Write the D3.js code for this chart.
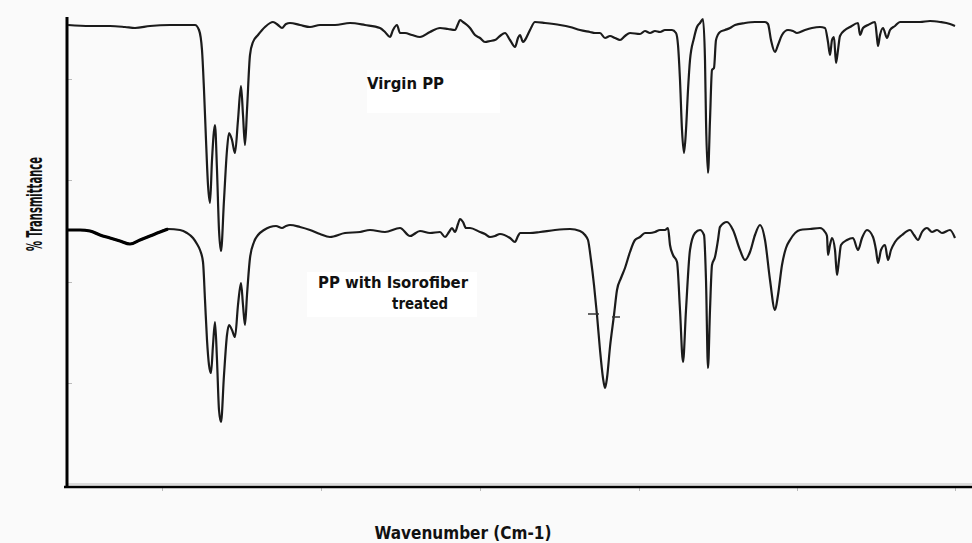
<!DOCTYPE html>
<html>
<head>
<meta charset="utf-8">
<script src="https://cdn.jsdelivr.net/npm/d3@7"></script>
<style>
  body { margin: 0; background: #fafafa; }
  svg { display: block; }
  .lbl { font-family: "Liberation Sans Narrow", "DejaVu Sans Condensed", sans-serif; font-weight: bold; fill: #111; }
</style>
</head>
<body>
<div id="chart"></div>
<script>
// spectra: [wavenumber (cm-1), % transmittance]
const virginPP = [
  [3996,95],[3908,94.8],[3828,94.8],[3768,94.6],[3728,94.4],[3668,94.8],[3588,95],[3528,95],[3488,95],
  [3472,94],[3460,90],[3452,82],[3444,72],[3436,63],[3428,59.4],[3420,68],[3408,75],[3400,66],[3392,54],
  [3384,49.8],[3372,60],[3360,70],[3352,73.4],[3340,72],[3328,69.4],[3316,76],[3304,82.8],[3296,77],
  [3288,71],[3280,78],[3268,89],[3256,91.6],[3236,93],[3208,94.6],[3176,95.6],[3156,95],[3140,94.4],
  [3124,95.2],[3108,95.4],[3068,95],[3028,94.6],[2988,95],[2928,95],[2868,95.4],[2808,95],[2748,94.4],
  [2728,93.6],[2708,92.6],[2696,94],[2680,95],[2668,93.4],[2648,93.4],[2620,93],[2588,92.6],[2548,93.6],
  [2508,94.4],[2476,94.2],[2448,94],[2436,95.2],[2428,96],[2416,95.6],[2400,95],[2388,94.4],[2368,93],
  [2348,92.4],[2328,91.6],[2308,91.8],[2288,92],[2268,92.8],[2248,93.4],[2228,92],[2208,90.6],[2196,92.4],
  [2188,93],[2176,91.6],[2168,92],[2148,94],[2128,95.6],[2088,95.4],[2028,95],[1988,94.6],[1948,94],
  [1908,93.6],[1888,93.4],[1868,93.4],[1848,92.4],[1828,92.8],[1808,92.4],[1788,92],[1768,92.8],[1748,93.4],
  [1708,93.2],[1688,93.8],[1668,93.4],[1648,93.8],[1628,93.6],[1608,94],[1580,94],[1564,93.4],[1556,91],
  [1548,84],[1540,74],[1532,69.4],[1524,74],[1516,82],[1508,88],[1492,92.4],[1480,94.6],[1468,95.4],
  [1456,96.2],[1448,88],[1444,76],[1436,65.4],[1428,76],[1420,86],[1412,86.4],[1404,92],[1388,93.6],
  [1368,94],[1348,94.4],[1328,95],[1288,95.4],[1248,95.6],[1208,95.6],[1196,95.2],[1184,92],[1168,89.6],
  [1156,91],[1140,93],[1116,94],[1096,93.8],[1080,93.4],[1048,94],[1020,94.4],[988,94.6],[968,94.4],
  [956,91.6],[948,89],[940,92],[932,92.6],[924,87.4],[916,90],[908,92.8],[888,94],[868,94.6],[836,95.4],
  [828,93],[816,94.4],[796,95],[768,95.6],[760,92.4],[756,90.8],[748,93],[736,94.4],[720,92.4],[708,94],
  [688,94.8],[668,95.6],[628,95.6],[588,95.6],[548,95.8],[508,95.6],[468,95.2],[448,94.8]
];

const treatedPP = [
  [3996,54],[3948,54],[3908,53.8],[3868,53],[3828,52.4],[3788,51.8],[3748,51.2],[3708,52],[3668,52.8],
  [3628,53.6],[3596,54.2],[3548,54],[3520,53.4],[3496,52.4],[3480,51.2],[3468,50],[3456,47.6],[3448,40],
  [3440,32],[3432,27],[3424,25.4],[3416,31],[3408,35.6],[3400,28],[3392,18],[3384,15.6],[3372,25],
  [3360,33],[3352,35],[3340,34],[3328,32.6],[3316,39],[3304,43.4],[3296,39],[3288,35],[3280,41],
  [3268,48.4],[3252,51.6],[3236,53],[3212,54],[3188,54.6],[3164,54.8],[3140,54.4],[3124,54.8],[3108,55],
  [3068,54.6],[3028,54],[2988,53.2],[2948,52.6],[2888,53.4],[2828,53.6],[2788,54],[2728,53.6],[2668,54.4],
  [2628,52.8],[2588,53.8],[2548,53.4],[2508,53.6],[2488,52.6],[2472,53.6],[2460,54.4],[2448,53.6],
  [2436,55.2],[2428,56.2],[2416,55.6],[2404,54.4],[2388,54.4],[2348,53.6],[2328,53.2],[2308,52.6],
  [2288,52.8],[2268,53.2],[2228,52.4],[2208,51.6],[2196,52.8],[2188,53.4],[2148,53.4],[2108,53.6],
  [2048,54],[1988,54.2],[1948,53.8],[1928,53],[1916,52],[1904,48],[1892,43],[1880,37],[1868,30],
  [1856,24.4],[1848,22.4],[1840,24.4],[1828,30.6],[1812,37],[1800,42],[1784,44.4],[1768,46.4],[1748,49.6],
  [1728,52],[1708,52.6],[1688,53.4],[1668,53.4],[1648,53.6],[1628,54],[1608,54],[1596,54.4],[1588,51],
  [1576,49],[1560,47.6],[1548,38],[1536,27.6],[1524,38],[1508,50],[1488,53.4],[1468,54],[1452,53],
  [1444,44],[1436,26.4],[1428,38],[1420,47],[1408,48.6],[1396,52],[1388,54.6],[1360,55.6],[1336,54],
  [1308,50],[1288,48],[1268,49.6],[1248,53],[1228,55],[1208,52],[1188,44],[1168,38],[1156,41],[1140,47],
  [1124,50.4],[1108,52],[1068,54],[1028,54.2],[988,54.4],[968,53.6],[960,52.8],[956,49],[948,51],
  [940,52.4],[928,50],[920,45],[912,48],[904,51],[880,52],[856,52.4],[836,50],[820,52.4],[800,54],
  [776,52.6],[764,50],[756,47.4],[744,50],[728,51],[716,48],[704,50],[688,51.6],[660,53],[628,54],
  [612,53],[596,52],[580,53.6],[560,54.4],[540,53.6],[520,54],[500,53.4],[468,54],[448,52.4]
];

// faint tick marks
const yTicks = [84.2, 64, 54, 43.6, 23.4];
const xTicks = [3620, 2984, 2348, 1712, 1080, 448];

// small pen marks around the 1850 band
const marks = [
  [[1916, 37.2], [1872, 37.2]],
  [[1820, 36.6], [1788, 36.6]]
];

const labels = [
  { text: "Virgin PP", wn: 2800, t: 82.2, len: 77 },
  { text: "PP with Isorofiber", wn: 2996, t: 42.4, len: 150 },
  { text: "treated", wn: 2700, t: 38.2, len: 56 }
];

const W = 972, H = 543;
const mLeft = 67, mRight = 973, mTop = 18, mBottom = 487;

const x = d3.scaleLinear().domain([4000, 376]).range([mLeft, mRight]);
const y = d3.scaleLinear().domain([2.6, 96.4]).range([mBottom, mTop]);

const svg = d3.select('#chart').append('svg')
  .attr('width', W)
  .attr('height', H);

svg.append('rect')
  .attr('width', W).attr('height', H)
  .style('fill', '#fafafa');

// white patches behind the labels, like the scan
svg.append('rect')
  .attr('x', x(2800)).attr('y', y(86))
  .attr('width', 133).attr('height', 43)
  .style('fill', '#ffffff');
svg.append('rect')
  .attr('x', x(3040)).attr('y', y(45.6))
  .attr('width', 170).attr('height', 45)
  .style('fill', '#ffffff');

// faint ticks
svg.append('g')
  .attr('transform', `translate(${mLeft},0)`)
  .call(d3.axisRight(y).tickValues(yTicks).tickSize(5).tickFormat(''))
  .call(g => g.select('.domain').remove())
  .call(g => g.selectAll('line').style('stroke', '#bbb'));

svg.append('g')
  .attr('transform', `translate(0,${mBottom})`)
  .call(d3.axisBottom(x).tickValues(xTicks).tickSize(4).tickFormat(''))
  .call(g => g.select('.domain').remove())
  .call(g => g.selectAll('line').style('stroke', '#bbb'));

// gray line right above the x axis
svg.append('line')
  .attr('x1', mLeft).attr('x2', W)
  .attr('y1', mBottom - 3).attr('y2', mBottom - 3)
  .style('stroke', '#d0d0d0')
  .style('stroke-width', 1.5);

// axes lines
svg.append('line')
  .attr('x1', mLeft).attr('x2', mLeft)
  .attr('y1', mTop - 1).attr('y2', mBottom + 1)
  .style('stroke', '#000')
  .style('stroke-width', 3);
svg.append('line')
  .attr('x1', mLeft - 3).attr('x2', W)
  .attr('y1', mBottom).attr('y2', mBottom)
  .style('stroke', '#000')
  .style('stroke-width', 2.5);

const line = d3.line()
  .x(d => x(d[0]))
  .y(d => y(d[1]))
  .curve(d3.curveMonotoneX);

[virginPP, treatedPP].forEach(s => {
  svg.append('path')
    .datum(s)
    .attr('d', line)
    .style('fill', 'none')
    .style('stroke', '#1b1b1b')
    .style('stroke-width', 2.2)
    .style('stroke-linejoin', 'round');
});

// the start of the treated spectrum is drawn heavier
svg.append('path')
  .datum(treatedPP.filter(d => d[0] >= 3590))
  .attr('d', line)
  .style('fill', 'none')
  .style('stroke', '#000')
  .style('stroke-width', 3.2);

marks.forEach(m => {
  svg.append('path')
    .datum(m)
    .attr('d', d3.line().x(d => x(d[0])).y(d => y(d[1])))
    .style('stroke', '#333')
    .style('stroke-width', 1.5);
});

labels.forEach(l => {
  svg.append('text')
    .attr('class', 'lbl')
    .attr('x', x(l.wn))
    .attr('y', y(l.t))
    .attr('textLength', l.len)
    .attr('lengthAdjust', 'spacingAndGlyphs')
    .style('font-size', '16px')
    .text(l.text);
});

// axis titles
svg.append('text')
  .attr('class', 'lbl')
  .attr('x', 463).attr('y', 539)
  .attr('text-anchor', 'middle')
  .attr('textLength', 177)
  .attr('lengthAdjust', 'spacingAndGlyphs')
  .style('font-size', '18px')
  .text('Wavenumber (Cm-1)');

svg.append('text')
  .attr('class', 'lbl')
  .attr('transform', 'translate(42,204) rotate(-90)')
  .attr('text-anchor', 'middle')
  .attr('textLength', 94)
  .attr('lengthAdjust', 'spacingAndGlyphs')
  .style('font-size', '22px')
  .text('% Transmittance');
</script>
</body>
</html>
